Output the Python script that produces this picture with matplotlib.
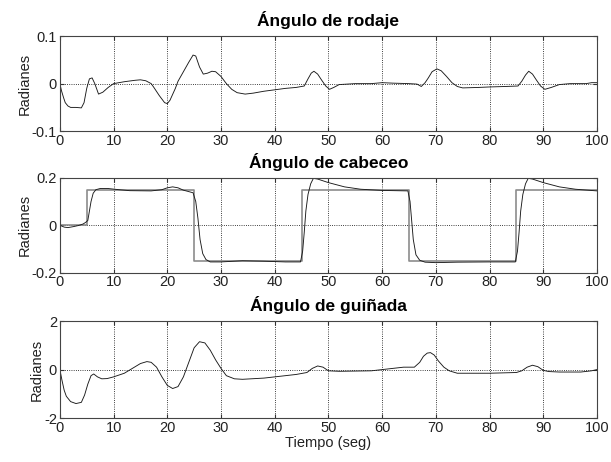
import matplotlib
matplotlib.use("Agg")
import matplotlib.pyplot as plt

plt.rcParams['font.family'] = ['Liberation Sans', 'DejaVu Sans']
plt.rcParams['axes.unicode_minus'] = False

# Ángulo de rodaje
t_roll = [0, 0.3, 0.7, 1, 1.5, 2, 3, 4, 4.5, 5, 5.5, 6, 6.5, 7.2, 8, 9, 10, 12, 14, 15, 16,
          17, 17.5, 18.5, 19.5, 20, 20.5, 21.5, 22, 23, 24, 24.8, 25.3, 26, 26.7, 27.5, 28.3,
          29, 30, 31, 32, 33, 34.5, 36, 38, 40, 42, 44, 45.5, 46.2, 46.8, 47.3, 48, 48.7,
          49.5, 50.2, 51, 52, 55, 58, 60, 62, 65, 66.5, 67.3, 68, 68.6, 69.3, 70.2, 71, 72,
          73, 74, 75, 78, 80, 83, 85.3, 86, 86.7, 87.3, 88, 88.7, 89.5, 90.3, 91.5, 93, 95,
          98, 99, 100]
roll = [0, -0.015, -0.03, -0.04, -0.047, -0.05, -0.05, -0.051, -0.04, -0.01, 0.01, 0.012,
        0.0, -0.022, -0.018, -0.008, 0.0, 0.004, 0.007, 0.008, 0.006, 0.0, -0.008, -0.025,
        -0.04, -0.042, -0.035, -0.01, 0.005, 0.025, 0.045, 0.06, 0.058, 0.035, 0.02, 0.022,
        0.026, 0.025, 0.015, 0.0, -0.012, -0.019, -0.022, -0.02, -0.016, -0.013, -0.01,
        -0.008, -0.005, 0.01, 0.022, 0.026, 0.02, 0.008, -0.005, -0.012, -0.008, -0.002,
        0.0, 0.0, 0.002, 0.001, 0.0, -0.001, -0.006, 0.002, 0.012, 0.025, 0.031, 0.027,
        0.015, 0.002, -0.006, -0.009, -0.008, -0.007, -0.006, -0.005, 0.005, 0.018, 0.026,
        0.02, 0.008, -0.005, -0.012, -0.008, -0.002, 0.0, 0.0, 0.002, 0.002]

# Ángulo de cabeceo: referencia y respuesta
t_ref = [0, 5, 5, 25, 25, 45, 45, 65, 65, 85, 85, 100]
pitch_ref = [0, 0, 0.15, 0.15, -0.15, -0.15, 0.15, 0.15, -0.15, -0.15, 0.15, 0.15]

t_pitch = [0, 0.8, 1.5, 2.5, 3.5, 4.3, 4.8, 5.2, 5.5, 5.8, 6.2, 6.7, 7.5, 9, 11, 13, 17,
           19, 20, 21, 22, 23, 24, 24.8, 25.3, 25.7, 26.1, 26.6, 27.2, 28, 30, 34, 38, 42,
           44.8, 45.2, 45.5, 45.8, 46.2, 46.7, 47.2, 48, 50, 53, 56, 60, 64.8, 65.2, 65.5,
           65.8, 66.3, 67, 68, 70, 74, 80, 84.8, 85.2, 85.5, 85.8, 86.2, 86.7, 87.2, 88, 90,
           93, 96, 100]
pitch = [0, -0.008, -0.01, -0.006, -0.001, 0.005, 0.012, 0.02, 0.06, 0.1, 0.135, 0.15,
         0.155, 0.155, 0.15, 0.146, 0.145, 0.15, 0.158, 0.162, 0.158, 0.148, 0.142, 0.137,
         0.1, 0.03, -0.06, -0.12, -0.145, -0.155, -0.155, -0.15, -0.152, -0.155, -0.155,
         -0.11, -0.03, 0.06, 0.13, 0.175, 0.198, 0.195, 0.18, 0.162, 0.152, 0.147, 0.145,
         0.1, 0.02, -0.06, -0.125, -0.148, -0.156, -0.158, -0.156, -0.155, -0.155, -0.11,
         -0.03, 0.06, 0.13, 0.175, 0.198, 0.195, 0.18, 0.162, 0.152, 0.145]

# Ángulo de guiñada
t_yaw = [0, 0.4, 0.8, 1.2, 2, 3, 4, 4.6, 5.2, 5.8, 6.3, 7, 7.8, 8.8, 10, 12, 13.5, 15,
         16.2, 17, 18, 19, 20, 21, 22, 23, 24, 25, 26, 27, 28, 29, 30, 31, 32.5, 34, 38,
         40, 44, 46, 47, 48, 49, 50, 52, 58, 60, 62, 64, 66, 67, 67.7, 68.4, 69, 69.7, 70.5,
         71.5, 72.5, 74, 80, 85, 86, 87, 88, 89, 90, 91, 93, 97, 99, 100]
yaw = [0, -0.45, -0.85, -1.1, -1.32, -1.4, -1.35, -1.05, -0.6, -0.25, -0.18, -0.3, -0.38,
       -0.37, -0.3, -0.15, 0.05, 0.25, 0.33, 0.3, 0.1, -0.3, -0.65, -0.78, -0.7, -0.3,
       0.3, 0.9, 1.15, 1.1, 0.8, 0.4, 0.05, -0.25, -0.38, -0.4, -0.35, -0.3, -0.2, -0.12,
       0.05, 0.15, 0.1, -0.05, -0.07, -0.05, 0.0, 0.05, 0.1, 0.1, 0.3, 0.55, 0.68, 0.7,
       0.6, 0.35, 0.1, -0.05, -0.15, -0.15, -0.12, -0.05, 0.1, 0.18, 0.12, -0.03, -0.08,
       -0.1, -0.1, -0.05, 0.0]

x_ticks = [0, 10, 20, 30, 40, 50, 60, 70, 80, 90, 100]

fig = plt.figure(figsize=(6.11, 4.62), dpi=100)
left, width = 0.098, 0.879
ax1 = fig.add_axes([left, 0.716, width, 0.206])
ax2 = fig.add_axes([left, 0.410, width, 0.205])
ax3 = fig.add_axes([left, 0.095, width, 0.210])


def style(ax, title, ylim, yticks, ylabels):
    ax.set_xlim(0, 100)
    ax.set_ylim(*ylim)
    ax.set_xticks(x_ticks)
    ax.set_xticklabels([str(v) for v in x_ticks])
    ax.set_yticks(yticks)
    ax.set_yticklabels(ylabels)
    ax.grid(True, color='black', linestyle=':', linewidth=0.6)
    ax.tick_params(direction='in', length=3, labelsize=10.5, pad=2,
                   top=True, right=True, color='#333333', labelcolor='#222222')
    for s in ax.spines.values():
        s.set_color('#444444')
        s.set_linewidth(0.8)
    ax.set_title(title, fontsize=12.5, fontweight='bold', pad=7)
    ax.set_ylabel('Radianes', fontsize=10.5, labelpad=0, color='#222222')


ax1.plot(t_roll, roll, color='#1a1a1a', linewidth=0.65)
style(ax1, 'Ángulo de rodaje', (-0.1, 0.1), [-0.1, 0, 0.1], ['-0.1', '0', '0.1'])

ax2.plot(t_ref, pitch_ref, color='#8c8c8c', linewidth=1.2)
ax2.plot(t_pitch, pitch, color='#1a1a1a', linewidth=0.65)
style(ax2, 'Ángulo de cabeceo', (-0.2, 0.2), [-0.2, 0, 0.2], ['-0.2', '0', '0.2'])

ax3.plot(t_yaw, yaw, color='#1a1a1a', linewidth=0.65)
style(ax3, 'Ángulo de guiñada', (-2, 2), [-2, 0, 2], ['-2', '0', '2'])
ax3.set_xlabel('Tiempo (seg)', fontsize=10.5, labelpad=1, color='#222222')

fig.savefig('out.png', dpi=100)
